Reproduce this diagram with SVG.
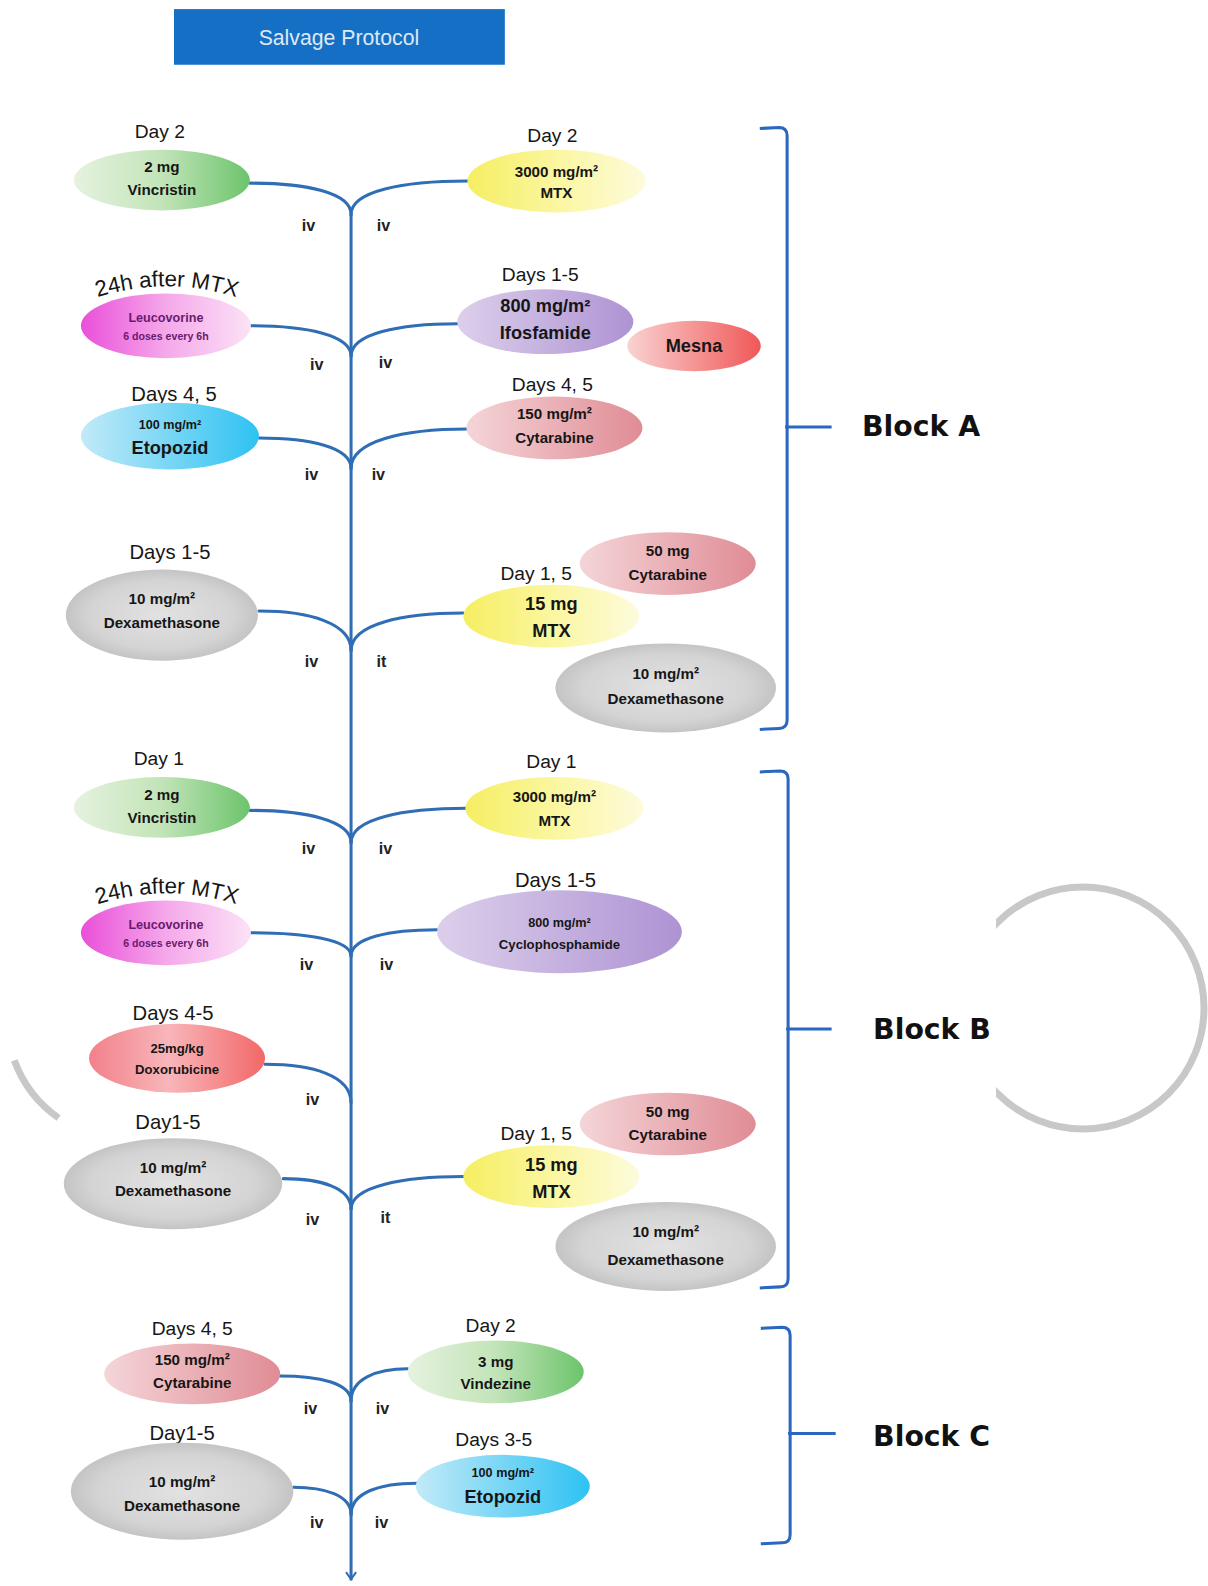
<svg xmlns="http://www.w3.org/2000/svg" width="1208" height="1586" viewBox="0 0 1208 1586">
<style>
  text { font-family: "Liberation Sans", Arial, sans-serif; fill: #161616; text-anchor: middle; }
  .day { font-size: 19px; }
  .b15 { font-size: 15px; font-weight: bold; }
  .b18 { font-size: 18px; font-weight: bold; }
  .s12 { font-size: 12.5px; font-weight: bold; }
  .leu { font-size: 12.5px; font-weight: bold; fill: #6a1a6e; }
  .leu2 { font-size: 10.5px; font-weight: bold; fill: #6a1a6e; }
  .arc { font-size: 22px; }
  .route { font-size: 16px; font-weight: bold; fill: #222; }
  .block { font-family: "DejaVu Sans", Verdana, sans-serif; font-size: 28px; font-weight: bold; text-anchor: start; fill: #111; }
  .title { font-size: 21px; fill: #dfe8f4; }
  .conn path { fill: none; stroke: #2f6db5; stroke-width: 3; stroke-linecap: round; }
  .brk path { fill: none; stroke: #2b67c1; stroke-width: 3; }
  .ring { fill: none; stroke: #c8c8c8; stroke-width: 7; }
</style>
<defs>
  <linearGradient id="gGreen" x1="0" y1="0" x2="1" y2="0"><stop offset="0" stop-color="#e6f2df"/><stop offset="0.5" stop-color="#c2e4b8"/><stop offset="1" stop-color="#6cc46c"/></linearGradient>
  <linearGradient id="gYellow" x1="0" y1="0" x2="1" y2="0"><stop offset="0" stop-color="#f6ee62"/><stop offset="0.55" stop-color="#fbf7a6"/><stop offset="1" stop-color="#fdfbdc"/></linearGradient>
  <linearGradient id="gMagenta" x1="0" y1="0" x2="1" y2="0"><stop offset="0" stop-color="#ea4fd9"/><stop offset="0.5" stop-color="#f5a8ea"/><stop offset="1" stop-color="#fbe2f6"/></linearGradient>
  <linearGradient id="gPurple" x1="0" y1="0" x2="1" y2="0"><stop offset="0" stop-color="#dccfeb"/><stop offset="1" stop-color="#ae93d3"/></linearGradient>
  <linearGradient id="gSalmon" x1="0" y1="0" x2="1" y2="0"><stop offset="0" stop-color="#f9d2d2"/><stop offset="1" stop-color="#f05858"/></linearGradient>
  <linearGradient id="gCyan" x1="0" y1="0" x2="1" y2="0"><stop offset="0" stop-color="#c2eaf8"/><stop offset="1" stop-color="#2ec2f2"/></linearGradient>
  <linearGradient id="gRose" x1="0" y1="0" x2="1" y2="0"><stop offset="0" stop-color="#f4d5d8"/><stop offset="1" stop-color="#e08c95"/></linearGradient>
  <linearGradient id="gRed" x1="0" y1="0" x2="1" y2="0"><stop offset="0" stop-color="#f2808a"/><stop offset="0.45" stop-color="#f8b6ba"/><stop offset="1" stop-color="#f26868"/></linearGradient>
  <radialGradient id="gGray" cx="0.5" cy="0.5" r="0.5"><stop offset="0" stop-color="#e2e2e2"/><stop offset="0.75" stop-color="#d4d4d4"/><stop offset="1" stop-color="#c4c4c4"/></radialGradient>
  <marker id="arr" viewBox="-1 -6 9 12" refX="7" refY="0" markerWidth="9" markerHeight="12" markerUnits="userSpaceOnUse" orient="auto">
    <path d="M0,-5 L7,0 L0,5" fill="none" stroke="#2f6db5" stroke-width="2"/>
  </marker>
  <clipPath id="clipRing"><rect x="996" y="800" width="212" height="400"/></clipPath>
  <path id="arcA" d="M 84 298 Q 165 268 246 298"/>
  <path id="arcB" d="M 84 898 Q 165 868 246 898"/>
</defs>
<rect width="1208" height="1586" fill="#ffffff"/>

<g id="decor">
  <circle class="ring" cx="1083" cy="1008" r="121" clip-path="url(#clipRing)"/>
  <path class="ring" d="M 14.3 1060.4 A 121 121 0 0 0 58.6 1118"/>
</g>

<g transform="scale(1.0117)">
<g id="title">
  <rect x="172" y="9" width="327" height="55" fill="#1570c5"/>
  <text class="title" x="335" y="44">Salvage Protocol</text>
</g>

<g id="connectors" class="conn">
  <path d="M347,212 L347,1561" marker-end="url(#arr)"/>
  <path d="M247,181 C302,181 347,190 347,212"/>
  <path d="M462,179 C398,179 347,189 347,212"/>
  <path d="M248,322 C302,322 347,331 347,352"/>
  <path d="M452,320 C394,320 347,330 347,352"/>
  <path d="M256,433 C306,433 347,442 347,463"/>
  <path d="M462,424 C398,424 347,436 347,463"/>
  <path d="M256,604 C306,604 347,616 347,643"/>
  <path d="M458,606 C397,606 347,617 347,643"/>
  <path d="M247,801 C302,801 347,811 347,833"/>
  <path d="M462,799 C398,799 347,809 347,833"/>
  <path d="M248,922 C302,922 347,929 347,945"/>
  <path d="M432,919 C385,919 347,927 347,945"/>
  <path d="M262,1052 C309,1052 347,1063 347,1090"/>
  <path d="M280,1165 C317,1165 347,1174 347,1195"/>
  <path d="M458,1163 C397,1163 347,1173 347,1195"/>
  <path d="M277,1360 C315,1360 347,1367 347,1385"/>
  <path d="M403,1353 C372,1353 347,1363 347,1385"/>
  <path d="M290,1470 C321,1470 347,1478 347,1497"/>
  <path d="M412,1466 C376,1466 347,1475 347,1497"/>
</g>

<g id="routes">
  <text class="route" x="305" y="228">iv</text><text class="route" x="379" y="228">iv</text>
  <text class="route" x="313" y="366">iv</text><text class="route" x="381" y="364">iv</text>
  <text class="route" x="308" y="474">iv</text><text class="route" x="374" y="474">iv</text>
  <text class="route" x="308" y="659">iv</text><text class="route" x="377" y="659">it</text>
  <text class="route" x="305" y="844">iv</text><text class="route" x="381" y="844">iv</text>
  <text class="route" x="303" y="959">iv</text><text class="route" x="382" y="959">iv</text>
  <text class="route" x="309" y="1092">iv</text>
  <text class="route" x="309" y="1211">iv</text><text class="route" x="381" y="1209">it</text>
  <text class="route" x="307" y="1398">iv</text><text class="route" x="378" y="1398">iv</text>
  <text class="route" x="313" y="1510">iv</text><text class="route" x="377" y="1510">iv</text>
</g>

<!-- Block A -->
<g id="a-vincristin">
  <text class="day" x="158" y="136">Day 2</text>
  <ellipse cx="160" cy="178" rx="87" ry="30" fill="url(#gGreen)"/>
  <text class="b15" x="160" y="170">2 mg</text>
  <text class="b15" x="160" y="193">Vincristin</text>
</g>
<g id="a-mtx">
  <text class="day" x="546" y="140">Day 2</text>
  <ellipse cx="550" cy="179" rx="88" ry="31" fill="url(#gYellow)"/>
  <text class="b15" x="550" y="175">3000 mg/m²</text>
  <text class="b15" x="550" y="196">MTX</text>
</g>
<g id="a-leucovorine">
  <text class="arc"><textPath href="#arcA" startOffset="50%">24h after MTX</textPath></text>
  <ellipse cx="164" cy="322" rx="84" ry="32" fill="url(#gMagenta)"/>
  <text class="leu" x="164" y="318">Leucovorine</text>
  <text class="leu2" x="164" y="336">6 doses every 6h</text>
</g>
<g id="a-ifosfamide">
  <text class="day" x="534" y="278">Days 1-5</text>
  <ellipse cx="539" cy="318" rx="87" ry="32" fill="url(#gPurple)"/>
  <text class="b18" x="539" y="308">800 mg/m²</text>
  <text class="b18" x="539" y="335">Ifosfamide</text>
</g>
<g id="a-mesna">
  <ellipse cx="686" cy="342" rx="66" ry="25" fill="url(#gSalmon)"/>
  <text class="b18" x="686" y="348">Mesna</text>
</g>
<g id="a-etopozid">
  <text class="day" x="172" y="396" style="font-size:20px">Days 4, 5</text>
  <ellipse cx="168" cy="431" rx="88" ry="33" fill="url(#gCyan)"/>
  <text class="s12" x="168" y="424">100 mg/m²</text>
  <text class="b18" x="168" y="449">Etopozid</text>
</g>
<g id="a-cytarabine">
  <text class="day" x="546" y="386">Days 4, 5</text>
  <ellipse cx="548" cy="423" rx="87" ry="31" fill="url(#gRose)"/>
  <text class="b15" x="548" y="414">150 mg/m²</text>
  <text class="b15" x="548" y="438">Cytarabine</text>
</g>
<g id="a-dexa-iv">
  <text class="day" x="168" y="553" style="font-size:20px">Days 1-5</text>
  <ellipse cx="160" cy="608" rx="95" ry="45" fill="url(#gGray)"/>
  <text class="b15" x="160" y="597">10 mg/m²</text>
  <text class="b15" x="160" y="621">Dexamethasone</text>
</g>
<g id="a-it-cytarabine">
  <ellipse cx="660" cy="557" rx="87" ry="31" fill="url(#gRose)"/>
  <text class="b15" x="660" y="550">50 mg</text>
  <text class="b15" x="660" y="573">Cytarabine</text>
</g>
<g id="a-it-mtx">
  <text class="day" x="530" y="573">Day 1, 5</text>
  <ellipse cx="545" cy="609" rx="87" ry="31" fill="url(#gYellow)"/>
  <text class="b18" x="545" y="603">15 mg</text>
  <text class="b18" x="545" y="630">MTX</text>
</g>
<g id="a-it-dexa">
  <ellipse cx="658" cy="680" rx="109" ry="44" fill="url(#gGray)"/>
  <text class="b15" x="658" y="671">10 mg/m²</text>
  <text class="b15" x="658" y="696">Dexamethasone</text>
</g>

<!-- Block B -->
<g id="b-vincristin">
  <text class="day" x="157" y="756">Day 1</text>
  <ellipse cx="160" cy="798" rx="87" ry="30" fill="url(#gGreen)"/>
  <text class="b15" x="160" y="791">2 mg</text>
  <text class="b15" x="160" y="813">Vincristin</text>
</g>
<g id="b-mtx">
  <text class="day" x="545" y="759">Day 1</text>
  <ellipse cx="548" cy="799" rx="88" ry="31" fill="url(#gYellow)"/>
  <text class="b15" x="548" y="793">3000 mg/m²</text>
  <text class="b15" x="548" y="816">MTX</text>
</g>
<g id="b-leucovorine">
  <text class="arc"><textPath href="#arcB" startOffset="50%">24h after MTX</textPath></text>
  <ellipse cx="164" cy="922" rx="84" ry="32" fill="url(#gMagenta)"/>
  <text class="leu" x="164" y="918">Leucovorine</text>
  <text class="leu2" x="164" y="936">6 doses every 6h</text>
</g>
<g id="b-cyclophosphamide">
  <text class="day" x="549" y="877" style="font-size:20px">Days 1-5</text>
  <ellipse cx="553" cy="921" rx="121" ry="41" fill="url(#gPurple)"/>
  <text class="s12" x="553" y="916">800 mg/m²</text>
  <text class="s12" x="553" y="938" style="font-size:13px">Cyclophosphamide</text>
</g>
<g id="b-doxorubicine">
  <text class="day" x="171" y="1008" style="font-size:20px">Days 4-5</text>
  <ellipse cx="175" cy="1046" rx="87" ry="34" fill="url(#gRed)"/>
  <text class="s12" x="175" y="1041" style="font-size:13px">25mg/kg</text>
  <text class="s12" x="175" y="1062" style="font-size:13px">Doxorubicine</text>
</g>
<g id="b-dexa-iv">
  <text class="day" x="166" y="1116" style="font-size:20px">Day1-5</text>
  <ellipse cx="171" cy="1170" rx="108" ry="45" fill="url(#gGray)"/>
  <text class="b15" x="171" y="1159">10 mg/m²</text>
  <text class="b15" x="171" y="1182">Dexamethasone</text>
</g>
<g id="b-it-cytarabine">
  <ellipse cx="660" cy="1111" rx="87" ry="31" fill="url(#gRose)"/>
  <text class="b15" x="660" y="1104">50 mg</text>
  <text class="b15" x="660" y="1127">Cytarabine</text>
</g>
<g id="b-it-mtx">
  <text class="day" x="530" y="1127">Day 1, 5</text>
  <ellipse cx="545" cy="1163" rx="87" ry="31" fill="url(#gYellow)"/>
  <text class="b18" x="545" y="1157">15 mg</text>
  <text class="b18" x="545" y="1184">MTX</text>
</g>
<g id="b-it-dexa">
  <ellipse cx="658" cy="1232" rx="109" ry="44" fill="url(#gGray)"/>
  <text class="b15" x="658" y="1223">10 mg/m²</text>
  <text class="b15" x="658" y="1250">Dexamethasone</text>
</g>

<!-- Block C -->
<g id="c-cytarabine">
  <text class="day" x="190" y="1320">Days 4, 5</text>
  <ellipse cx="190" cy="1358" rx="87" ry="30" fill="url(#gRose)"/>
  <text class="b15" x="190" y="1349">150 mg/m²</text>
  <text class="b15" x="190" y="1372">Cytarabine</text>
</g>
<g id="c-vindezine">
  <text class="day" x="485" y="1317">Day 2</text>
  <ellipse cx="490" cy="1356" rx="87" ry="31" fill="url(#gGreen)"/>
  <text class="b15" x="490" y="1351">3 mg</text>
  <text class="b15" x="490" y="1373">Vindezine</text>
</g>
<g id="c-dexa">
  <text class="day" x="180" y="1423" style="font-size:20px">Day1-5</text>
  <ellipse cx="180" cy="1474" rx="110" ry="48" fill="url(#gGray)"/>
  <text class="b15" x="180" y="1470">10 mg/m²</text>
  <text class="b15" x="180" y="1494">Dexamethasone</text>
</g>
<g id="c-etopozid">
  <text class="day" x="488" y="1429">Days 3-5</text>
  <ellipse cx="497" cy="1469" rx="86" ry="31" fill="url(#gCyan)"/>
  <text class="s12" x="497" y="1460">100 mg/m²</text>
  <text class="b18" x="497" y="1486">Etopozid</text>
</g>

<g id="brackets" class="brk">
  <path d="M751,127 L770,126 Q778,126 778,134 L778,712 Q778,720 770,720 L751,721"/>
  <path d="M776,422 L822,422"/>
  <path d="M751,763 L771,762 Q779,762 779,770 L779,1264 Q779,1272 771,1272 L751,1273"/>
  <path d="M777,1017 L822,1017"/>
  <path d="M752,1313 L773,1312 Q781,1312 781,1320 L781,1517 Q781,1525 773,1525 L752,1526"/>
  <path d="M779,1417 L826,1417"/>
</g>
<g id="block-labels">
  <text class="block" x="852" y="431">Block A</text>
  <text class="block" x="863" y="1027">Block B</text>
  <text class="block" x="863" y="1429">Block C</text>
</g>
</g>
</svg>
